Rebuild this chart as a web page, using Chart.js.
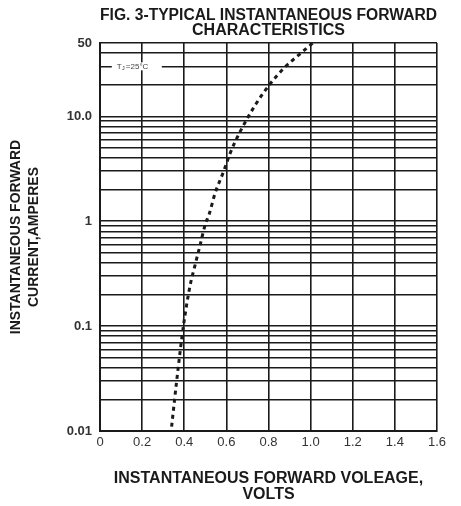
<!DOCTYPE html>
<html>
<head>
<meta charset="utf-8">
<script src="https://cdn.jsdelivr.net/npm/chart.js@4.4.0/dist/chart.umd.min.js"></script>
<style>
    html, body { margin: 0; padding: 0; background: #fff; }
    #wrap { width: 461px; height: 506px; }
</style>
</head>
<body>
<div id="wrap"><canvas id="fwdChart" width="461" height="506"></canvas></div>
<script>
// Curve (volts, amperes)
const volts = [0.340, 0.364, 0.396, 0.427, 0.451, 0.475, 0.499, 0.519, 0.546, 0.586, 0.617, 0.641, 0.688, 0.741, 0.802, 0.870, 0.950, 1.010];
const amps = [0.011, 0.03, 0.10, 0.24, 0.38, 0.59, 0.92, 1.18, 1.84, 2.95, 4.4, 5.7, 8.7, 13.2, 19.7, 28.4, 39.5, 50];

// Axis ticks
const xTicks = [0, 0.2, 0.4, 0.6, 0.8, 1.0, 1.2, 1.4, 1.6];
const xTickLabels = ['0', '0.2', '0.4', '0.6', '0.8', '1.0', '1.2', '1.4', '1.6'];
const yTicks = [0.01, 0.02, 0.03, 0.04, 0.05, 0.06, 0.07, 0.08, 0.09,
    0.1, 0.2, 0.3, 0.4, 0.5, 0.6, 0.7, 0.8, 0.9,
    1, 2, 3, 4, 5, 6, 7, 8, 9,
    10, 20, 30, 40, 50];
const yLabelValues = [0.01, 0.1, 1, 10, 50];
const yTickLabels = ['0.01', '0.1', '1', '10.0', '50'];

const FONT = "'Liberation Sans', Arial, sans-serif";
const INK = '#1a1a1a';

// Tj label sitting on the 30 A grid line
const tjLabel = {
    id: 'tjLabel',
    beforeDatasetsDraw(chart) {
        const { ctx, scales: { x, y } } = chart;
        const cx = x.getPixelForValue(0.17);
        const cy = y.getPixelForValue(30);
        ctx.save();
        ctx.fillStyle = '#fff';
        ctx.fillRect(cx - 24, cy - 4, 50, 8);
        ctx.fillStyle = '#444';
        ctx.textBaseline = 'middle';
        ctx.font = '8px ' + FONT;
        ctx.fillText('T', cx - 19, cy);
        ctx.font = '6px ' + FONT;
        ctx.fillText('J', cx - 14, cy + 2);
        ctx.font = '8px ' + FONT;
        ctx.fillText('=25°C', cx - 10, cy);
        ctx.restore();
    }
};

const ctx = document.getElementById('fwdChart').getContext('2d');
const chart = new Chart(ctx, {
    type: 'scatter',
    data: {
        datasets: [{
            data: volts.map((v, i) => ({ x: v, y: amps[i] })),
            showLine: true,
            borderColor: INK,
            borderWidth: 3,
            borderDash: [4, 4],
            pointRadius: 0,
            cubicInterpolationMode: 'monotone'
        }]
    },
    options: {
        responsive: false,
        animation: false,
        layout: { padding: { left: 0, right: 24, top: 0, bottom: 0 } },
        plugins: {
            legend: { display: false },
            tooltip: { enabled: false },
            title: {
                display: true,
                text: ['FIG. 3-TYPICAL INSTANTANEOUS FORWARD', 'CHARACTERISTICS'],
                color: INK,
                fullSize: false,
                font: { family: FONT, size: 16, weight: 'bold', lineHeight: 0.94 },
                padding: { top: 8.5, bottom: 4.5 }
            }
        },
        scales: {
            x: {
                type: 'linear',
                min: 0,
                max: 1.6,
                afterBuildTicks: (scale) => { scale.ticks = xTicks.map(v => ({ value: v })); },
                afterFit: (scale) => { scale.height = 75; },
                ticks: {
                    autoSkip: false,
                    maxRotation: 0,
                    padding: 4,
                    color: '#333',
                    font: { family: FONT, size: 13 },
                    callback: (value, index) => xTickLabels[index]
                },
                grid: { color: INK, lineWidth: 1.6, drawTicks: false },
                border: { color: INK, width: 2 },
                title: {
                    display: true,
                    text: ['INSTANTANEOUS FORWARD VOLEAGE,', 'VOLTS'],
                    color: INK,
                    font: { family: FONT, size: 16, weight: 'bold', lineHeight: 1 },
                    padding: { top: 0, bottom: 3 }
                }
            },
            y: {
                type: 'logarithmic',
                min: 0.01,
                max: 50,
                afterBuildTicks: (scale) => { scale.ticks = yTicks.map(v => ({ value: v })); },
                afterFit: (scale) => { scale.width = 100; },
                ticks: {
                    autoSkip: false,
                    padding: 8,
                    color: '#333',
                    font: { family: FONT, size: 13, weight: 'bold' },
                    callback: (value) => {
                        const i = yLabelValues.findIndex(v => Math.abs(v - value) < 1e-9);
                        return i >= 0 ? yTickLabels[i] : '';
                    }
                },
                grid: { color: INK, lineWidth: 1.6, drawTicks: false },
                border: { color: INK, width: 2 },
                title: {
                    display: true,
                    text: ['INSTANTANEOUS FORWARD', 'CURRENT,AMPERES'],
                    color: INK,
                    font: { family: FONT, size: 14, weight: 'bold', lineHeight: 1.286 },
                    padding: { top: 7, bottom: 0 }
                }
            }
        }
    },
    plugins: [tjLabel]
});
</script>
</body>
</html>
